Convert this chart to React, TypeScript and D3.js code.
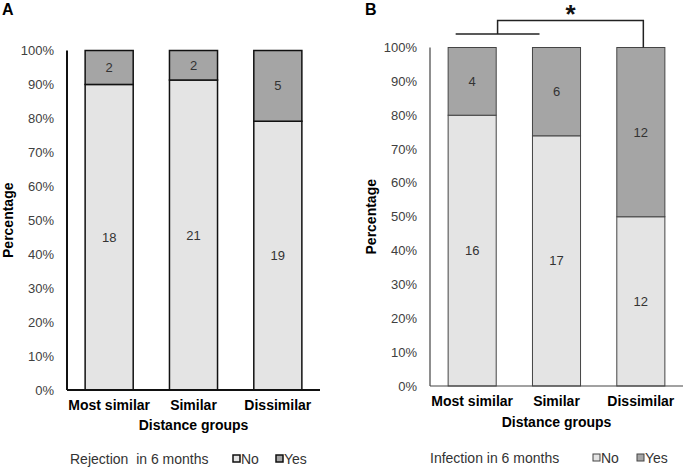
import React from "react";
import * as d3 from "d3";

const categories = ["Most similar", "Similar", "Dissimilar"];
const rejectionNo = [18, 21, 19];
const rejectionYes = [2, 2, 5];
const infectionNo = [16, 17, 12];
const infectionYes = [4, 6, 12];
const yTicks = [0, 0.1, 0.2, 0.3, 0.4, 0.5, 0.6, 0.7, 0.8, 0.9, 1.0];

const FONT = "'Liberation Sans', Arial, sans-serif";
const NO_FILL = "#e4e4e4";
const YES_FILL = "#a5a5a5";

type PanelProps = {
  ox: number;
  top: number;
  bottom: number;
  letter: string;
  no: number[];
  yes: number[];
  legendTitle: string;
  stroke: string;
  sw: number;
  axisW: number;
  legend: { title: number; sq1: number; sq2: number; base: number };
  catBase: number;
  titleBase: number;
};

function Panel(p: PanelProps) {
  const x0 = p.ox;
  const x1 = p.ox + 253;
  const x = d3.scaleBand<string>().domain(categories).range([x0, x1]).paddingInner(0.43).paddingOuter(0.215);
  const y = d3.scaleLinear().domain([0, 1]).range([p.bottom, p.top]);
  const fmt = d3.format(".0%");
  const rows = categories.map((c, i) => {
    const tot = p.no[i] + p.yes[i];
    return { c, noP: p.no[i] / tot, no: p.no[i], yes: p.yes[i] };
  });
  const midY = (p.top + p.bottom) / 2;
  return (
    <g>
      <text x={p.ox - 65} y={15} fontSize={16} fontWeight="bold" fill="#000">{p.letter}</text>
      {yTicks.map((t) => (
        <text key={t} x={p.ox - 13} y={y(t) + 4.5} textAnchor="end" fontSize={13} fill="#404040">{fmt(t)}</text>
      ))}
      <text transform={`translate(${p.ox - 54},${midY}) rotate(-90)`} textAnchor="middle" fontSize={14} fontWeight="bold" fill="#000">Percentage</text>
      {rows.map((r) => {
        const bx = x(r.c)!;
        const bw = x.bandwidth();
        const yb = y(r.noP);
        return (
          <g key={r.c}>
            <rect x={bx} y={yb} width={bw} height={p.bottom - yb} fill={NO_FILL} stroke={p.stroke} strokeWidth={p.sw} />
            <rect x={bx} y={p.top} width={bw} height={yb - p.top} fill={YES_FILL} stroke={p.stroke} strokeWidth={p.sw} />
            <text x={bx + bw / 2} y={(yb + p.bottom) / 2 + 4.5} textAnchor="middle" fontSize={13} fill="#333">{r.no}</text>
            <text x={bx + bw / 2} y={(yb + p.top) / 2 + 4.5} textAnchor="middle" fontSize={13} fill="#333">{r.yes}</text>
            <text x={bx + bw / 2} y={p.catBase} textAnchor="middle" fontSize={14} fontWeight="bold" fill="#000">{r.c}</text>
          </g>
        );
      })}
      <line x1={x0} x2={x0} y1={p.top} y2={p.bottom} stroke={p.stroke} strokeWidth={p.axisW} />
      <line x1={x0} x2={x1} y1={p.bottom} y2={p.bottom} stroke={p.stroke} strokeWidth={p.axisW} />
      <text x={(x0 + x1) / 2} y={p.titleBase} textAnchor="middle" fontSize={14} fontWeight="bold" fill="#000">Distance groups</text>
      <text x={p.legend.title} y={p.legend.base} fontSize={14} fill="#333" style={{ whiteSpace: "pre" }}>{p.legendTitle}</text>
      <rect x={p.legend.sq1} y={p.legend.base - 9} width={7} height={7} fill={NO_FILL} stroke={p.stroke} strokeWidth={p.sw} />
      <text x={p.legend.sq1 + 8} y={p.legend.base} fontSize={14} fill="#333">No</text>
      <rect x={p.legend.sq2} y={p.legend.base - 9} width={7} height={7} fill={YES_FILL} stroke={p.stroke} strokeWidth={p.sw} />
      <text x={p.legend.sq2 + 8} y={p.legend.base} fontSize={14} fill="#333">Yes</text>
    </g>
  );
}

export default function App() {
  const yB = d3.scaleLinear().domain([0, 1]).range([386, 47.5]);
  const xB = d3.scaleBand<string>().domain(categories).range([430, 683]).paddingInner(0.43).paddingOuter(0.215);
  const c1 = xB("Most similar")! + xB.bandwidth() / 2;
  const c2 = xB("Similar")! + xB.bandwidth() / 2;
  const c3 = xB("Dissimilar")! + xB.bandwidth() / 2;
  const low = 34;
  const high = 20.5;
  const lx1 = c1 - 16.5;
  const lx2 = c2 - 17;
  const mid = (lx1 + lx2) / 2;
  const rx = c3 + 2.5;
  return (
    <svg width={685} height={469} style={{ position: "absolute", left: 0, top: 0, fontFamily: FONT }}>
      <rect width={685} height={469} fill="#fff" />
      <Panel
        ox={67}
        top={50.5}
        bottom={390}
        letter="A"
        no={rejectionNo}
        yes={rejectionYes}
        legendTitle={"Rejection  in 6 months"}
        stroke="#111"
        sw={1.5}
        axisW={2}
        legend={{ title: 70, sq1: 233, sq2: 276, base: 464 }}
        catBase={410}
        titleBase={430}
      />
      <Panel
        ox={430}
        top={47.5}
        bottom={386}
        letter="B"
        no={infectionNo}
        yes={infectionYes}
        legendTitle={"Infection in 6 months"}
        stroke="#444"
        sw={1}
        axisW={1.2}
        legend={{ title: 430, sq1: 593, sq2: 637, base: 463 }}
        catBase={406}
        titleBase={427}
      />
      <line x1={lx1} x2={lx2} y1={low} y2={low} stroke="#222" strokeWidth={1.5} />
      <path d={`M${mid},${low} V${high} H${rx} V${yB(1)}`} fill="none" stroke="#222" strokeWidth={1.5} />
      <text x={(mid + rx) / 2} y={22.5} textAnchor="middle" fontSize={26} fontWeight="bold" fill="#111">*</text>
    </svg>
  );
}
